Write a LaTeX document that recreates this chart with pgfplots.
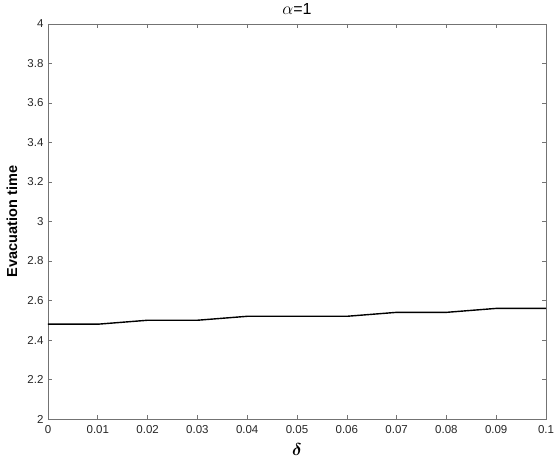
\documentclass[border=0pt]{standalone}
\usepackage{amsmath}
\usepackage{bm}
\usepackage{pgfplots}
\pgfplotsset{compat=1.18}
\usepackage{fontspec}
\setmainfont{Liberation Sans}
\begin{document}
\begin{tikzpicture}
\begin{axis}[
  scale only axis,
  at={(0,0)}, anchor=south west,
  width=498pt, height=395pt,
  xmin=0, xmax=0.1, ymin=2, ymax=4,
  xtick={0,0.01,...,0.1},
  xticklabels={0,0.01,0.02,0.03,0.04,0.05,0.06,0.07,0.08,0.09,0.1},
  ytick={2,2.2,...,4},
  yticklabels={2,2.2,2.4,2.6,2.8,3,3.2,3.4,3.6,3.8,4},
  tick align=inside,
  major tick length=4pt,
  axis line style={draw=black!55, line width=0.6pt},
  tick style={draw=black!55, line width=0.6pt},
  every tick label/.append style={font=\fontsize{11.5}{13}\selectfont, text=black!85},
  xticklabel style={yshift=-3pt},
  yticklabel style={xshift=-1pt},
  xlabel={$\bm{\delta}$},
  ylabel={\textbf{Evacuation time}},
  xlabel style={font=\fontsize{16}{18}\selectfont, at={(axis description cs:0.5,0)}, anchor=base, yshift=-36pt},
  ylabel style={font=\fontsize{14.5}{17}\selectfont\bfseries, at={(axis description cs:-0.0723,0.5)}, anchor=center},
  title={$\alpha$=1},
  title style={font=\fontsize{16}{18}\selectfont, at={(axis description cs:0.5,1)}, anchor=base, yshift=3pt},
  /pgf/number format/assume math mode=true,
]
\addplot[black, line width=1.4pt] coordinates {
(0,2.48) (0.01,2.48) (0.02,2.50) (0.03,2.50) (0.04,2.52) (0.05,2.52)
(0.06,2.52) (0.07,2.54) (0.08,2.54) (0.09,2.56) (0.1,2.56)
};
\end{axis}
\pgfresetboundingbox
\path[use as bounding box] (-48pt,-41pt) rectangle (509pt,419pt);
\end{tikzpicture}
\end{document}
